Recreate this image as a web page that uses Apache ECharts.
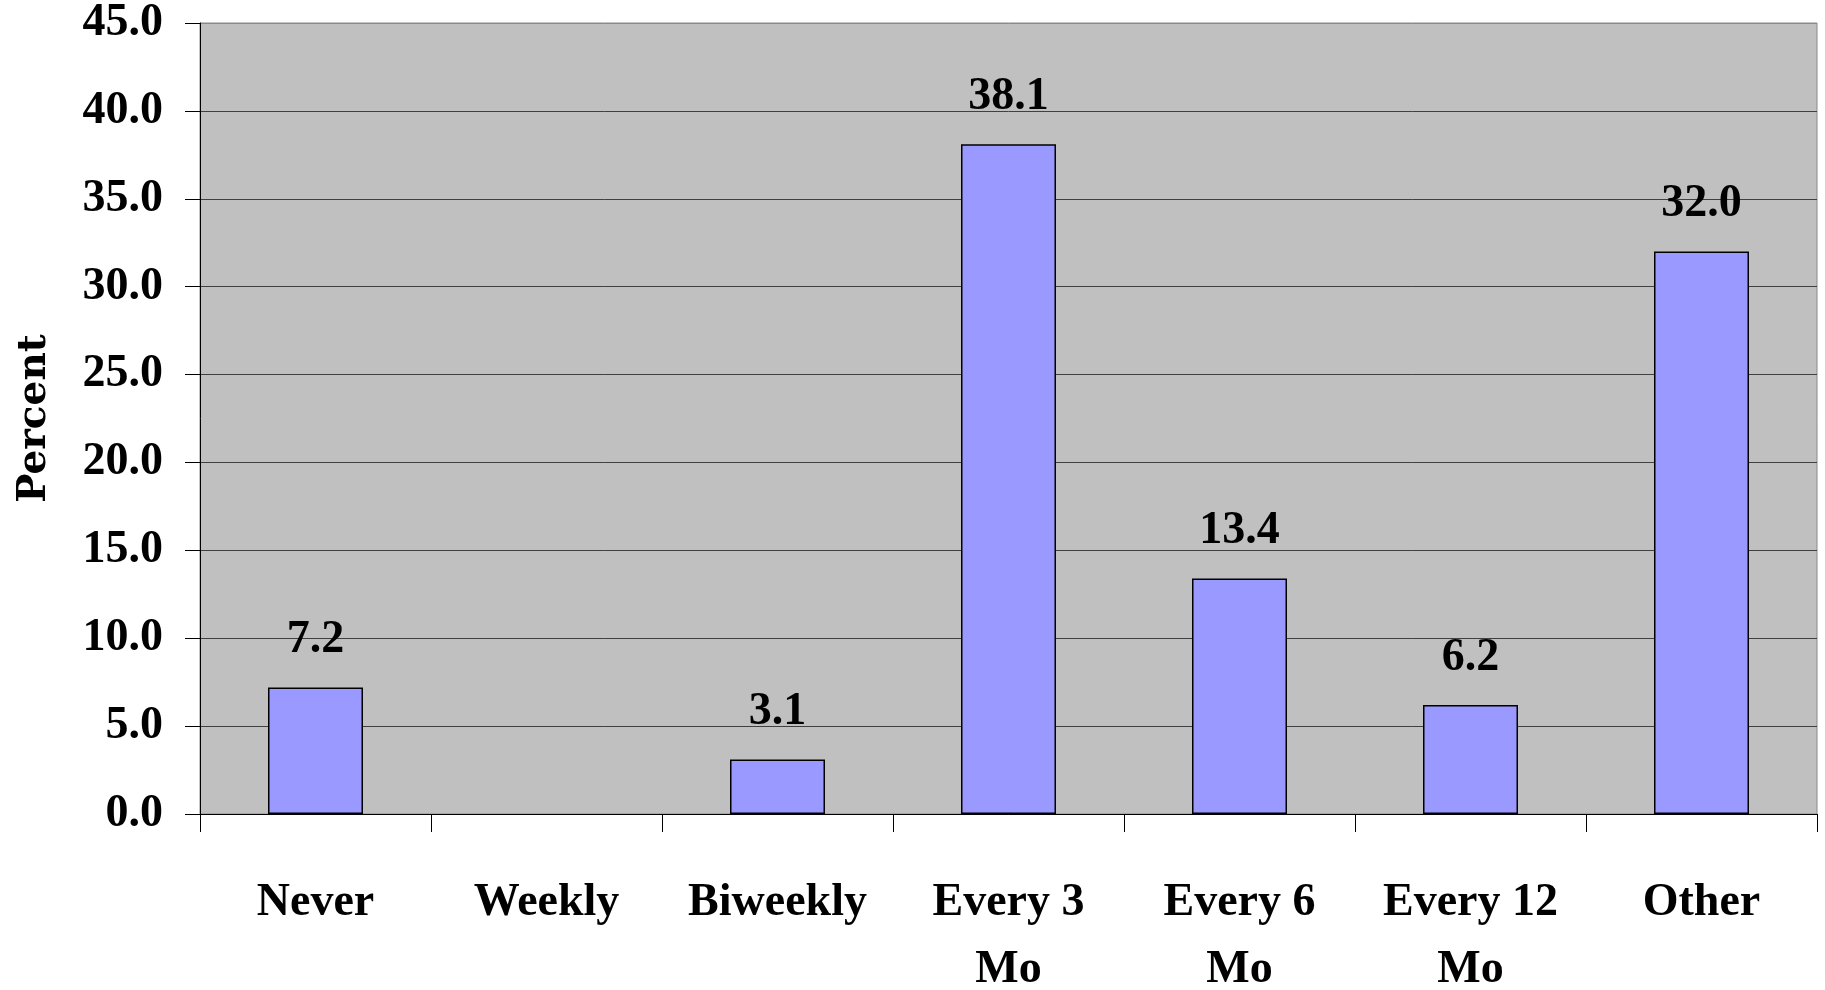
<!DOCTYPE html>
<html>
<head>
<meta charset="utf-8">
<script src="https://cdn.jsdelivr.net/npm/echarts@6/dist/echarts.min.js"></script>
<style>
html,body{margin:0;padding:0;background:#fff;}
#chart{width:1825px;height:990px;}
</style>
</head>
<body>
<div id="chart"></div>
<script>
const categories = ['Never', 'Weekly', 'Biweekly', 'Every 3\nMo', 'Every 6\nMo', 'Every 12\nMo', 'Other'];
const percentValues = [7.2, null, 3.1, 38.1, 13.4, 6.2, 32.0];
const yTicks = { min: 0, max: 45, interval: 5 };
const yAxisTitle = 'Percent';

const serif = '"Liberation Serif", "Times New Roman", serif';
const chart = echarts.init(document.getElementById('chart'), null, { renderer: 'canvas' });
const splitColors = [];
for (let v = yTicks.min; v <= yTicks.max; v += yTicks.interval) {
  splitColors.push(v === yTicks.max ? '#8a8a8a' : '#404040');
}
chart.setOption({
  animation: false,
  backgroundColor: '#ffffff',
  grid: {
    left: 200, right: 8, top: 23, bottom: 176,
    outerBoundsMode: 'none',
    show: true, backgroundColor: '#c0c0c0', borderColor: '#8a8a8a', borderWidth: 1,
    containLabel: false
  },
  xAxis: {
    type: 'category',
    data: categories,
    boundaryGap: true,
    axisLine: { show: true, lineStyle: { color: '#000', width: 1 } },
    axisTick: { show: true, alignWithLabel: false, length: 18, inside: false, lineStyle: { color: '#000', width: 1 } },
    axisLabel: {
      interval: 0, margin: 56,
      fontFamily: serif, fontWeight: 'bold', fontSize: 46, color: '#000',
      lineHeight: 67
    },
    splitLine: { show: false }
  },
  yAxis: {
    type: 'value',
    min: yTicks.min, max: yTicks.max, interval: yTicks.interval,
    name: yAxisTitle,
    nameLocation: 'middle',
    nameGap: 146,
    nameRotate: 90,
    nameTextStyle: { fontFamily: '"DejaVu Serif", serif', fontWeight: 'bold', fontSize: 39, color: '#000' },
    axisLine: { show: true, lineStyle: { color: '#000', width: 1 } },
    axisTick: { show: true, length: 15, inside: false, lineStyle: { color: '#000', width: 1 } },
    axisLabel: {
      margin: 37,
      fontFamily: serif, fontWeight: 'bold', fontSize: 46, color: '#000',
      formatter: v => v.toFixed(1)
    },
    splitLine: { show: true, lineStyle: { color: splitColors, width: 1 } }
  },
  series: [{
    type: 'bar',
    data: percentValues,
    barWidth: 95,
    itemStyle: { color: '#9999ff', borderColor: '#000', borderWidth: 1.5 },
    label: {
      show: true, position: 'top', distance: 24,
      fontFamily: serif, fontWeight: 'bold', fontSize: 46, color: '#000',
      formatter: p => (p.value == null ? '' : Number(p.value).toFixed(1))
    }
  }]
});
</script>
</body>
</html>
